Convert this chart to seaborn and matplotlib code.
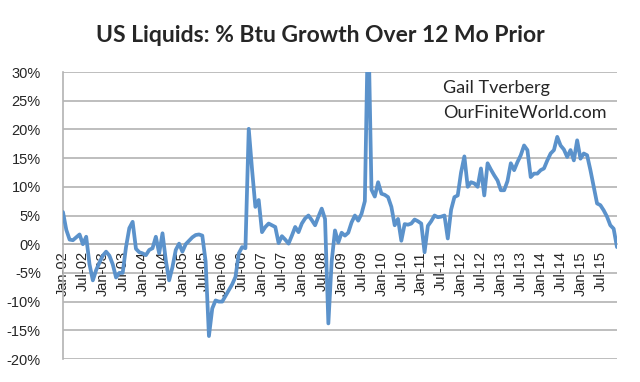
import pandas as pd
import matplotlib
matplotlib.use("Agg")
import matplotlib.pyplot as plt
import seaborn as sns

# Monthly % Btu growth over 12 months prior, Jan-02 .. Dec-15
growth_2002_2005 = [
    5.6, 2.5, 0.8, 0.7, 1.2, 1.7, 0.0, 1.3, -3.5, -6.3, -4.5, -3.2,
    -2.0, -1.3, -2.0, -3.5, -5.8, -5.0, -5.0, -0.5, 2.8, 3.9, -0.8, -1.4,
    -1.6, -1.9, -1.0, -0.7, 1.3, -1.6, 1.9, -2.8, -6.3, -4.0, -1.0, 0.1,
    -1.3, 0.0, 0.6, 1.2, 1.6, 1.7, 1.5, -3.0, -16.0, -11.2, -9.8, -10.0,
]
growth_2006_2009 = [
    -10.0, -9.0, -8.0, -7.0, -5.7, -1.6, -0.5, -0.7, 20.1, 13.0, 6.5, 7.7,
    2.1, 3.0, 3.6, 3.3, 3.0, 0.2, 1.4, 0.8, 0.1, 1.5, 3.0, 2.1,
    3.6, 4.5, 5.0, 4.2, 3.3, 4.8, 6.2, 4.4, -13.8, -3.0, 2.4, 0.3,
    2.0, 1.5, 2.0, 3.8, 5.0, 4.1, 5.3, 7.5, 40.0, 9.5, 8.3, 10.8,
]
growth_2010_2015 = [
    8.8, 8.6, 8.2, 6.5, 3.3, 4.4, 0.6, 3.5, 3.4, 3.6, 4.3, 4.0,
    3.6, -1.4, 3.2, 4.0, 5.0, 4.7, 4.8, 5.0, 1.0, 6.0, 8.2, 8.5,
    12.5, 15.3, 10.0, 10.8, 10.6, 10.0, 13.2, 8.5, 14.1, 13.0, 12.0, 11.1,
    9.4, 9.4, 11.0, 14.1, 12.9, 14.3, 15.5, 17.2, 16.4, 11.7, 12.3, 12.3,
    12.9, 13.2, 14.6, 15.8, 16.4, 18.7, 17.2, 16.5, 15.2, 16.4, 14.6, 18.1,
    14.9, 15.8, 15.5, 12.9, 10.0, 7.1, 6.8, 5.9, 4.8, 3.3, 2.7, -0.5,
]
growth = growth_2002_2005 + growth_2006_2009 + growth_2010_2015

tick_labels = [
    "Jan-02", "Jul-02", "Jan-03", "Jul-03", "Jan-04", "Jul-04", "Jan-05",
    "Jul-05", "Jan-06", "Jul-06", "Jan-07", "Jul-07", "Jan-08", "Jul-08",
    "Jan-09", "Jul-09", "Jan-10", "Jul-10", "Jan-11", "Jul-11", "Jan-12",
    "Jul-12", "Jan-13", "Jul-13", "Jan-14", "Jul-14", "Jan-15", "Jul-15",
]
y_ticks = [-20, -15, -10, -5, 0, 5, 10, 15, 20, 25, 30]

df = pd.DataFrame({"month": range(len(growth)), "growth": growth})

sns.set_style("white")
plt.rcParams["font.family"] = ["Liberation Sans", "DejaVu Sans"]

fig = plt.figure(figsize=(6.4, 3.82), dpi=100)
ax = fig.add_axes([0.0984, 0.0602, 0.8656, 0.7513])

grid_col = "#b3b3b3"
for v in y_ticks:
    ax.axhline(v, color=grid_col, lw=1.2, zorder=0)

sns.lineplot(data=df, x="month", y="growth", color="#5b92cb", lw=2.7,
             ax=ax, zorder=3)

# x axis crosses at 0 (set before ticks, it resets them)
ax.spines["bottom"].set_position(("data", 0))
for s in ["top", "right"]:
    ax.spines[s].set_visible(False)
for s in ["left", "bottom"]:
    ax.spines[s].set_color(grid_col)
    ax.spines[s].set_linewidth(1.2)

ax.set_xlim(0, len(growth) - 1)
ax.set_ylim(-20, 30)
ax.set_yticks(y_ticks)
ax.set_yticklabels([f"{v}%" for v in y_ticks], fontsize=10.5)
ax.set_xticks(range(0, 6 * len(tick_labels), 6))
ax.set_xticklabels(tick_labels, rotation=90, fontsize=10.5)
ax.set_xlabel("")
ax.set_ylabel("")

ax.tick_params(axis="both", direction="out", length=4, width=1.2,
               color=grid_col)
ax.tick_params(axis="y", pad=12)
ax.tick_params(axis="x", pad=1)

fig.text(0.5, 0.908, "US Liquids: % Btu Growth Over 12 Mo Prior",
         ha="center", va="center", fontsize=16.5, fontweight="bold",
         family="Lato")
fig.text(0.692, 0.770, "Gail Tverberg", ha="left", va="center",
         fontsize=13, family="Lato")
fig.text(0.692, 0.704, "OurFiniteWorld.com", ha="left", va="center",
         fontsize=13, family="Lato")

fig.savefig("out.png", dpi=100)
